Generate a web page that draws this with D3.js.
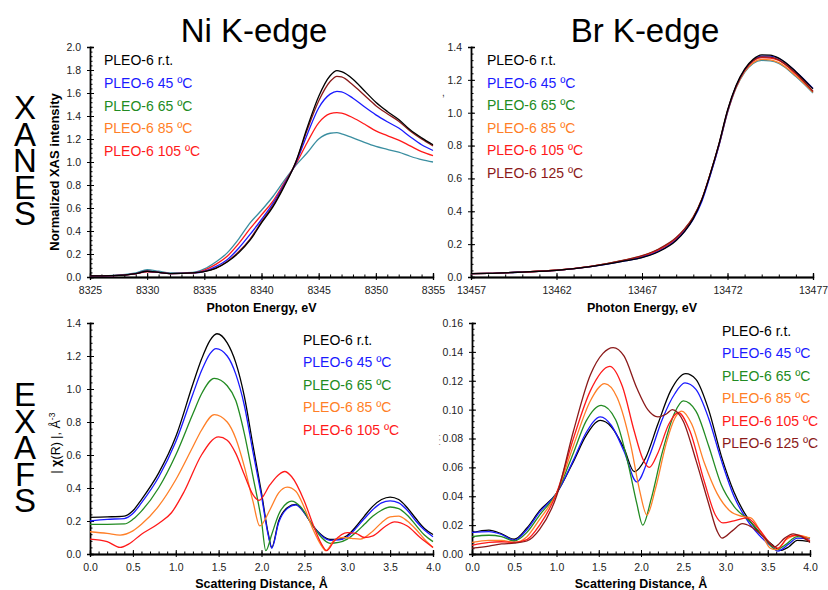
<!DOCTYPE html>
<html>
<head>
<meta charset="utf-8">
<script src="https://cdn.jsdelivr.net/npm/d3@7"></script>
<style>
  body { margin: 0; background: #fff; }
  svg { font-family: "Liberation Sans", Arial, sans-serif; }
  .rowlab { writing-mode: vertical-rl; text-orientation: upright; }
</style>
</head>
<body>
<script>
// XANES / EXAFS panels, Ni and Br K-edge

// ---- data ----
var legendNi = ["PLEO-6 r.t.", "PLEO-6 45 ºC", "PLEO-6 65 ºC", "PLEO-6 85 ºC", "PLEO-6 105 ºC"];
var legendBr = ["PLEO-6 r.t.", "PLEO-6 45 ºC", "PLEO-6 65 ºC", "PLEO-6 85 ºC", "PLEO-6 105 ºC", "PLEO-6 125 ºC"];
var legendColors = ["#000000", "#1a1aff", "#228b22", "#ff7f27", "#ff1a1a", "#8b1a1a"];

// Ni XANES (the picture shows these five traces)
var niE = [8325, 8327, 8329, 8330, 8331, 8332, 8334, 8335, 8336, 8337, 8338, 8339, 8340, 8341, 8342, 8343, 8344, 8345, 8346, 8346.6, 8347, 8348, 8349, 8350, 8351, 8352, 8353, 8354, 8355];
var niXanesTeal  = [0.01, 0.014, 0.035, 0.065, 0.05, 0.035, 0.04, 0.07, 0.13, 0.21, 0.33, 0.47, 0.58, 0.70, 0.84, 0.97, 1.08, 1.20, 1.25, 1.255, 1.245, 1.21, 1.17, 1.135, 1.11, 1.085, 1.05, 1.02, 1.0];
var niXanesRed   = [0.01, 0.012, 0.028, 0.045, 0.04, 0.03, 0.035, 0.06, 0.11, 0.18, 0.29, 0.42, 0.54, 0.66, 0.82, 0.98, 1.17, 1.34, 1.42, 1.43, 1.425, 1.385, 1.33, 1.27, 1.23, 1.19, 1.14, 1.09, 1.055];
var niXanesBlue  = [0.01, 0.012, 0.03, 0.05, 0.04, 0.03, 0.035, 0.05, 0.09, 0.15, 0.25, 0.37, 0.50, 0.64, 0.81, 0.99, 1.24, 1.47, 1.59, 1.615, 1.61, 1.555, 1.48, 1.41, 1.35, 1.295, 1.22, 1.15, 1.10];
var niXanesBrown = [0.01, 0.012, 0.03, 0.05, 0.04, 0.03, 0.035, 0.048, 0.078, 0.135, 0.22, 0.33, 0.48, 0.62, 0.80, 1.0, 1.28, 1.53, 1.70, 1.745, 1.74, 1.67, 1.58, 1.49, 1.42, 1.355, 1.27, 1.20, 1.14];
var niXanesBlack = [0.01, 0.012, 0.03, 0.05, 0.04, 0.03, 0.035, 0.046, 0.075, 0.13, 0.21, 0.32, 0.47, 0.61, 0.79, 1.0, 1.30, 1.57, 1.75, 1.795, 1.785, 1.72, 1.62, 1.52, 1.44, 1.37, 1.28, 1.21, 1.15];

// Br XANES
var brE = [13457, 13458, 13460, 13462, 13464, 13466, 13467, 13468, 13469, 13469.5, 13470, 13470.5, 13471, 13471.5, 13472, 13472.5, 13473, 13473.5, 13474, 13474.5, 13475, 13476, 13477];
var brXanesBlack  = [0.02, 0.022, 0.03, 0.04, 0.063, 0.098, 0.118, 0.155, 0.222, 0.278, 0.355, 0.47, 0.63, 0.81, 1.015, 1.165, 1.265, 1.325, 1.352, 1.35, 1.332, 1.25, 1.145];
var brXanesBlue   = [0.02, 0.022, 0.03, 0.04, 0.063, 0.098, 0.12, 0.158, 0.226, 0.28, 0.352, 0.46, 0.62, 0.80, 1.005, 1.16, 1.26, 1.32, 1.345, 1.345, 1.33, 1.25, 1.148];
var brXanesGreen  = [0.02, 0.022, 0.03, 0.041, 0.065, 0.102, 0.126, 0.168, 0.236, 0.29, 0.362, 0.47, 0.625, 0.80, 1.0, 1.15, 1.245, 1.30, 1.318, 1.315, 1.30, 1.22, 1.12];
var brXanesOrange = [0.02, 0.022, 0.03, 0.041, 0.065, 0.103, 0.128, 0.17, 0.238, 0.292, 0.364, 0.472, 0.628, 0.802, 1.002, 1.152, 1.25, 1.305, 1.325, 1.322, 1.305, 1.225, 1.125];
var brXanesRed    = [0.02, 0.022, 0.03, 0.041, 0.064, 0.101, 0.124, 0.165, 0.232, 0.287, 0.36, 0.47, 0.63, 0.805, 1.008, 1.158, 1.257, 1.315, 1.335, 1.333, 1.318, 1.235, 1.13];
var brXanesBrown  = [0.02, 0.022, 0.03, 0.041, 0.065, 0.104, 0.13, 0.172, 0.24, 0.294, 0.366, 0.475, 0.632, 0.808, 1.01, 1.16, 1.26, 1.318, 1.34, 1.338, 1.322, 1.24, 1.13];

// Ni EXAFS, [R, |chi(R)|]
var niExafsBlack = [[0,0.222],[0.2,0.225],[0.4,0.23],[0.5,0.262],[0.6,0.33],[0.8,0.49],[1.0,0.71],[1.2,1.03],[1.3,1.18],[1.4,1.295],[1.48,1.335],[1.6,1.28],[1.7,1.16],[1.8,0.955],[1.9,0.66],[2.0,0.37],[2.08,0.12],[2.12,0.04],[2.2,0.2],[2.3,0.28],[2.4,0.30],[2.5,0.25],[2.6,0.17],[2.7,0.115],[2.8,0.088],[2.9,0.09],[3.0,0.112],[3.1,0.165],[3.2,0.23],[3.3,0.29],[3.4,0.33],[3.5,0.345],[3.6,0.33],[3.7,0.28],[3.8,0.215],[3.9,0.155],[4.0,0.118]];
var niExafsBlue = [[0,0.20],[0.2,0.21],[0.4,0.215],[0.5,0.245],[0.6,0.31],[0.8,0.465],[1.0,0.68],[1.2,0.97],[1.3,1.11],[1.4,1.215],[1.47,1.245],[1.6,1.2],[1.7,1.09],[1.8,0.9],[1.9,0.62],[2.0,0.35],[2.08,0.11],[2.12,0.035],[2.2,0.19],[2.3,0.275],[2.4,0.298],[2.5,0.25],[2.6,0.17],[2.7,0.11],[2.8,0.083],[2.9,0.085],[3.0,0.105],[3.1,0.155],[3.2,0.215],[3.3,0.27],[3.4,0.31],[3.5,0.322],[3.6,0.31],[3.7,0.265],[3.8,0.2],[3.9,0.145],[4.0,0.105]];
var niExafsGreen = [[0,0.18],[0.2,0.18],[0.4,0.182],[0.5,0.21],[0.6,0.26],[0.8,0.40],[1.0,0.60],[1.2,0.85],[1.3,0.97],[1.45,1.065],[1.6,1.02],[1.7,0.93],[1.8,0.73],[1.9,0.47],[2.0,0.2],[2.05,0.02],[2.12,0.12],[2.2,0.24],[2.3,0.31],[2.35,0.32],[2.45,0.29],[2.6,0.17],[2.7,0.1],[2.8,0.065],[2.9,0.07],[3.0,0.09],[3.1,0.13],[3.2,0.18],[3.3,0.23],[3.4,0.265],[3.5,0.285],[3.6,0.275],[3.7,0.235],[3.8,0.175],[3.9,0.115],[4.0,0.075]];
var niExafsOrange = [[0,0.135],[0.2,0.125],[0.35,0.115],[0.5,0.14],[0.6,0.18],[0.8,0.29],[1.0,0.45],[1.2,0.65],[1.3,0.75],[1.45,0.845],[1.6,0.80],[1.7,0.70],[1.8,0.53],[1.9,0.32],[1.98,0.17],[2.1,0.27],[2.2,0.37],[2.3,0.405],[2.4,0.38],[2.5,0.28],[2.6,0.15],[2.7,0.05],[2.75,0.02],[2.85,0.085],[2.95,0.1],[3.05,0.095],[3.15,0.09],[3.3,0.14],[3.4,0.19],[3.5,0.225],[3.6,0.23],[3.7,0.2],[3.8,0.15],[3.9,0.09],[4.0,0.04]];
var niExafsRed = [[0,0.09],[0.2,0.075],[0.35,0.04],[0.45,0.06],[0.6,0.12],[0.8,0.185],[0.95,0.25],[1.1,0.38],[1.3,0.6],[1.5,0.71],[1.6,0.69],[1.7,0.61],[1.8,0.48],[1.9,0.36],[1.97,0.325],[2.1,0.42],[2.2,0.48],[2.27,0.5],[2.35,0.47],[2.5,0.32],[2.6,0.18],[2.7,0.06],[2.76,0.02],[2.85,0.08],[3.0,0.13],[3.1,0.125],[3.2,0.1],[3.3,0.11],[3.45,0.17],[3.55,0.195],[3.7,0.17],[3.85,0.1],[4.0,0.04]];

// Br EXAFS, [R, |chi(R)|]
var brExafsBlack = [[0,0.0148],[0.2,0.0165],[0.35,0.014],[0.5,0.0102],[0.65,0.018],[0.8,0.03],[1.0,0.042],[1.2,0.064],[1.35,0.082],[1.52,0.0925],[1.65,0.088],[1.8,0.073],[1.92,0.057],[2.05,0.066],[2.2,0.09],[2.35,0.113],[2.53,0.125],[2.65,0.121],[2.8,0.1],[2.95,0.068],[3.1,0.043],[3.25,0.026],[3.4,0.015],[3.55,0.0065],[3.65,0.0025],[3.75,0.005],[3.85,0.0095],[4.0,0.0085]];
var brExafsBlue = [[0,0.015],[0.2,0.0155],[0.35,0.0135],[0.5,0.0095],[0.65,0.017],[0.8,0.029],[1.0,0.042],[1.2,0.065],[1.35,0.084],[1.52,0.095],[1.65,0.089],[1.8,0.071],[1.95,0.05],[2.1,0.068],[2.25,0.093],[2.4,0.111],[2.52,0.1185],[2.65,0.114],[2.8,0.094],[2.95,0.065],[3.1,0.04],[3.25,0.024],[3.4,0.013],[3.55,0.005],[3.62,0.002],[3.75,0.007],[3.85,0.011],[4.0,0.0105]];
var brExafsGreen = [[0,0.012],[0.2,0.013],[0.35,0.012],[0.5,0.009],[0.65,0.015],[0.8,0.027],[1.0,0.042],[1.2,0.07],[1.35,0.092],[1.53,0.103],[1.7,0.093],[1.85,0.062],[1.95,0.035],[2.02,0.02],[2.12,0.038],[2.25,0.07],[2.4,0.098],[2.5,0.106],[2.65,0.099],[2.8,0.075],[2.95,0.048],[3.1,0.033],[3.3,0.022],[3.45,0.012],[3.6,0.003],[3.7,0.006],[3.85,0.012],[4.0,0.011]];
var brExafsOrange = [[0,0.008],[0.2,0.0095],[0.35,0.0095],[0.5,0.008],[0.65,0.012],[0.8,0.024],[1.0,0.042],[1.2,0.075],[1.4,0.106],[1.57,0.118],[1.72,0.108],[1.88,0.075],[1.98,0.045],[2.07,0.027],[2.17,0.045],[2.3,0.077],[2.4,0.094],[2.48,0.099],[2.6,0.09],[2.75,0.063],[2.9,0.042],[3.05,0.03],[3.2,0.026],[3.3,0.025],[3.42,0.015],[3.53,0.004],[3.6,0.003],[3.72,0.01],[3.85,0.013],[4.0,0.011]];
var brExafsRed = [[0,0.006],[0.2,0.008],[0.35,0.0085],[0.5,0.008],[0.65,0.01],[0.8,0.02],[1.0,0.042],[1.2,0.08],[1.4,0.113],[1.63,0.13],[1.78,0.116],[1.92,0.085],[2.02,0.066],[2.1,0.06],[2.2,0.07],[2.33,0.09],[2.44,0.098],[2.58,0.085],[2.75,0.05],[2.88,0.027],[2.97,0.0215],[3.1,0.023],[3.25,0.025],[3.4,0.017],[3.55,0.006],[3.62,0.004],[3.75,0.012],[3.85,0.013],[4.0,0.009]];
var brExafsBrown = [[0,0.004],[0.2,0.0055],[0.35,0.007],[0.5,0.0075],[0.65,0.009],[0.8,0.017],[1.0,0.04],[1.2,0.085],[1.4,0.124],[1.55,0.139],[1.67,0.143],[1.8,0.137],[1.95,0.115],[2.08,0.1],[2.2,0.095],[2.3,0.097],[2.37,0.1],[2.5,0.092],[2.65,0.065],[2.8,0.035],[2.9,0.016],[2.96,0.011],[3.08,0.016],[3.2,0.021],[3.3,0.019],[3.45,0.012],[3.58,0.005],[3.7,0.011],[3.8,0.014],[3.9,0.012],[4.0,0.008]];

// ---- drawing ----
var svg = d3.select("body").append("svg").attr("width", 828).attr("height", 590);

function steps(a, b, s) {
  var n = Math.round((b - a) / s);
  return d3.range(n + 1).map(function (i) { return a + i * s; });
}

var line = d3.line().curve(d3.curveMonotoneX);

function panel(p) {
  var x = d3.scaleLinear().domain(p.xd).range([p.l, p.r]);
  var y = d3.scaleLinear().domain(p.yd).range([p.b, p.t]);
  var g = svg.append("g");

  // minor ticks (inside)
  g.append("g").attr("transform", "translate(0," + p.b + ")")
    .call(d3.axisBottom(x).tickValues(steps(p.xd[0], p.xd[1], p.xminor)).tickSize(-2.5).tickFormat(""));
  g.append("g").attr("transform", "translate(" + p.l + ",0)")
    .call(d3.axisLeft(y).tickValues(steps(p.yd[0], p.yd[1], p.yminor)).tickSize(-2.5).tickFormat(""));
  // major ticks, inner part
  g.append("g").attr("transform", "translate(0," + p.b + ")")
    .call(d3.axisBottom(x).tickValues(steps(p.xd[0], p.xd[1], p.xmajor)).tickSize(-4).tickFormat(""));
  g.append("g").attr("transform", "translate(" + p.l + ",0)")
    .call(d3.axisLeft(y).tickValues(steps(p.yd[0], p.yd[1], p.ymajor)).tickSize(-4).tickFormat(""));
  // major ticks, outer part with labels
  g.append("g").attr("class", "lab").attr("transform", "translate(0," + p.b + ")")
    .call(d3.axisBottom(x).tickValues(steps(p.xd[0], p.xd[1], p.xmajor)).tickSize(3).tickPadding(7).tickFormat(d3.format(p.xfmt)));
  g.append("g").attr("class", "lab").attr("transform", "translate(" + p.l + ",0)")
    .call(d3.axisLeft(y).tickValues(steps(p.yd[0], p.yd[1], p.ymajor)).tickSize(3).tickPadding(6).tickFormat(d3.format(p.yfmt)));

  g.selectAll(".domain").attr("stroke", "#000").attr("stroke-width", 1.3);
  g.selectAll(".tick line").attr("stroke", "#000").attr("stroke-width", 1);
  g.selectAll(".lab text").attr("font-size", "10.5px").attr("fill", "#222")
    .attr("font-family", "'Liberation Sans', Arial, sans-serif");

  p.series.forEach(function (s) {
    g.append("path")
      .attr("d", line(s.pts.map(function (d) { return [x(d[0]), y(d[1])]; })))
      .attr("fill", "none").attr("stroke", s.color).attr("stroke-width", 1.3);
  });

  p.legend.forEach(function (t, i) {
    g.append("text").attr("x", p.lx).attr("y", p.ly + i * p.lstep)
      .attr("font-size", "14px").attr("fill", legendColors[i]).text(t);
  });

  g.append("text").attr("x", (p.l + p.r) / 2).attr("y", p.xlaby)
    .attr("text-anchor", "middle").attr("font-size", "12.5px").attr("font-weight", "bold")
    .text(p.xlab);
  return g;
}

function zip(xs, ys) { return xs.map(function (v, i) { return [v, ys[i]]; }); }

panel({
  l: 90, r: 433, t: 47, b: 277, xd: [8325, 8355], yd: [0, 2],
  xmajor: 5, xminor: 1, ymajor: 0.2, yminor: 0.04, xfmt: "d", yfmt: ".1f",
  series: [
    { pts: zip(niE, niXanesTeal), color: "#3a8ea0" },
    { pts: zip(niE, niXanesRed), color: "#ff1a1a" },
    { pts: zip(niE, niXanesBlue), color: "#1a1aff" },
    { pts: zip(niE, niXanesBrown), color: "#8b1a1a" },
    { pts: zip(niE, niXanesBlack), color: "#000000" }
  ],
  legend: legendNi, lx: 104, ly: 65, lstep: 22.8,
  xlab: "Photon Energy, eV", xlaby: 312
});

panel({
  l: 471, r: 813, t: 47, b: 277, xd: [13457, 13477], yd: [0, 1.4],
  xmajor: 5, xminor: 1, ymajor: 0.2, yminor: 0.04, xfmt: "d", yfmt: ".1f",
  series: [
    { pts: zip(brE, brXanesGreen), color: "#3a8ea0" },
    { pts: zip(brE, brXanesOrange), color: "#ff7f27" },
    { pts: zip(brE, brXanesRed), color: "#ff1a1a" },
    { pts: zip(brE, brXanesBlue), color: "#1a1aff" },
    { pts: zip(brE, brXanesBrown), color: "#8b1a1a" },
    { pts: zip(brE, brXanesBlack), color: "#000000" }
  ],
  legend: legendBr, lx: 487, ly: 65, lstep: 22.6,
  xlab: "Photon Energy, eV", xlaby: 312
});

panel({
  l: 90, r: 433, t: 323, b: 554, xd: [0, 4], yd: [0, 1.4],
  xmajor: 0.5, xminor: 0.1, ymajor: 0.2, yminor: 0.04, xfmt: ".1f", yfmt: ".1f",
  series: [
    { pts: niExafsBlack, color: "#000000" },
    { pts: niExafsBlue, color: "#1a1aff" },
    { pts: niExafsGreen, color: "#228b22" },
    { pts: niExafsOrange, color: "#ff7f27" },
    { pts: niExafsRed, color: "#ff1a1a" }
  ],
  legend: legendNi, lx: 303, ly: 345, lstep: 22.4,
  xlab: "Scattering Distance, Å", xlaby: 588
});

panel({
  l: 472, r: 810, t: 323, b: 554, xd: [0, 4], yd: [0, 0.16],
  xmajor: 0.5, xminor: 0.1, ymajor: 0.02, yminor: 0.004, xfmt: ".1f", yfmt: ".2f",
  series: [
    { pts: brExafsBlack, color: "#000000" },
    { pts: brExafsBlue, color: "#1a1aff" },
    { pts: brExafsGreen, color: "#228b22" },
    { pts: brExafsOrange, color: "#ff7f27" },
    { pts: brExafsRed, color: "#ff1a1a" },
    { pts: brExafsBrown, color: "#8b1a1a" }
  ],
  legend: legendBr, lx: 722, ly: 336, lstep: 22.4,
  xlab: "Scattering Distance, Å", xlaby: 588
});

// titles
svg.append("text").attr("x", 254).attr("y", 42).attr("text-anchor", "middle")
  .attr("font-size", "33px").text("Ni K-edge");
svg.append("text").attr("x", 645).attr("y", 42).attr("text-anchor", "middle")
  .attr("font-size", "33px").text("Br K-edge");

// row labels, letters stacked upright in one vertical text
svg.append("text").attr("class", "rowlab").attr("x", 25).attr("y", 89)
  .attr("font-size", "33px").attr("letter-spacing", "-10.5px").text("XANES");
svg.append("text").attr("class", "rowlab").attr("x", 25).attr("y", 376)
  .attr("font-size", "33px").attr("letter-spacing", "-10.5px").text("EXAFS");

// y axis titles
svg.append("text").attr("transform", "translate(59,172) rotate(-90)").attr("text-anchor", "middle")
  .attr("font-size", "13px").attr("font-weight", "bold").text("Normalized XAS intensity");
var chi = svg.append("text").attr("transform", "translate(60,443) rotate(-90)").attr("text-anchor", "middle")
  .attr("font-size", "12.5px");
chi.append("tspan").text("| ");
chi.append("tspan").attr("font-weight", "bold").text("χ");
chi.append("tspan").text("(R) |,  Å");
chi.append("tspan").attr("dy", -5).attr("font-size", "8.5px").text("-3");

// leftover marks of hidden axis titles
svg.append("text").attr("x", 442).attr("y", 96).attr("font-size", "10px").attr("fill", "#333").text(",");
svg.append("text").attr("transform", "translate(440,440) rotate(-90)").attr("text-anchor", "middle")
  .attr("font-size", "8px").attr("fill", "#444").text(". . .");
</script>
</body>
</html>
